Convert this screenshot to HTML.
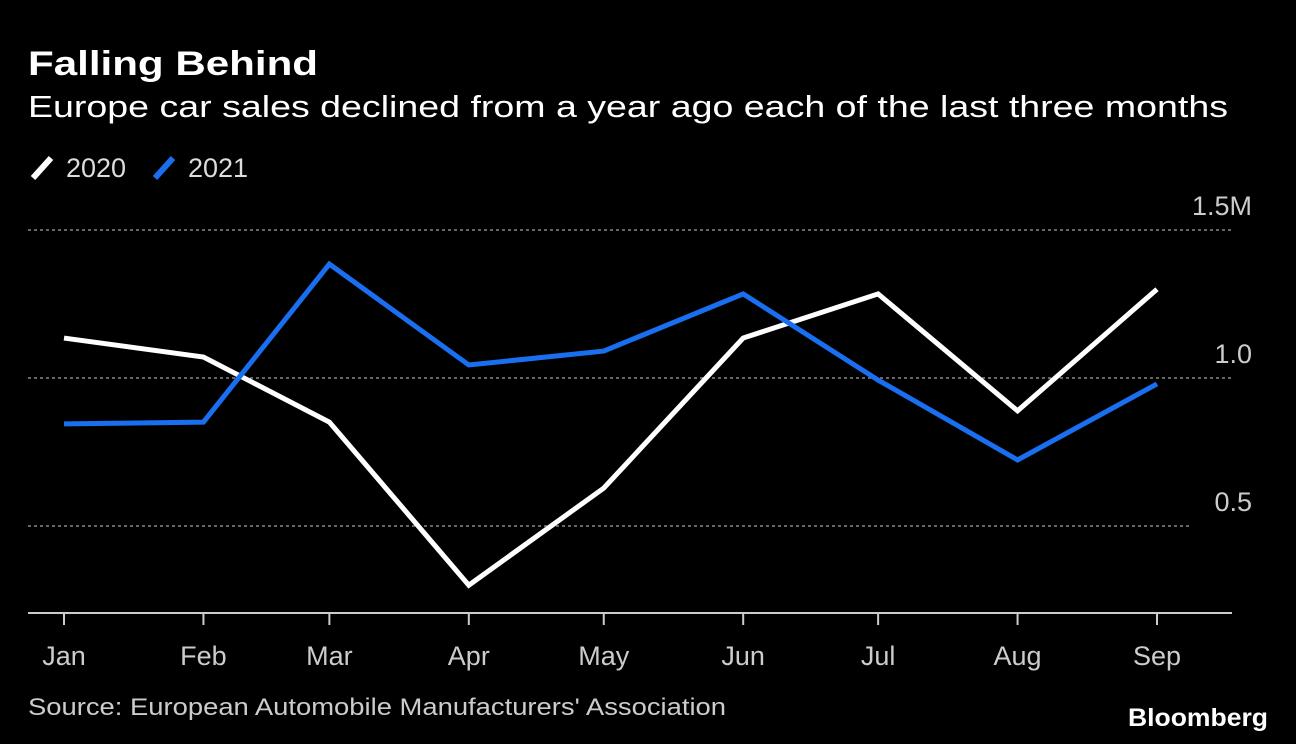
<!DOCTYPE html>
<html><head><meta charset="utf-8"><style>
html,body{margin:0;padding:0;background:#000;}
svg{display:block;font-family:"Liberation Sans",sans-serif;}
</style></head><body>
<svg id="chart" width="1296" height="744" viewBox="0 0 1296 744">
<rect width="1296" height="744" fill="#000"/>
<text x="28" y="75" fill="#fff" font-size="34" font-weight="bold" textLength="290" lengthAdjust="spacingAndGlyphs">Falling Behind</text>
<text x="28" y="117" fill="#fff" font-size="31" textLength="1200" lengthAdjust="spacingAndGlyphs">Europe car sales declined from a year ago each of the last three months</text>
<g>
<line x1="33" y1="178" x2="51" y2="158" stroke="#fff" stroke-width="6"/>
<text x="66" y="177" fill="#ddd" font-size="27">2020</text>
<line x1="155" y1="178" x2="173" y2="158" stroke="#1a6ff0" stroke-width="6"/>
<text x="188" y="177" fill="#ddd" font-size="27">2021</text>
</g>
<g id="grid"></g>
<g id="xaxis"></g>
<g id="lines"></g>
<text x="28" y="715" fill="#ccc" font-size="24" textLength="698" lengthAdjust="spacingAndGlyphs">Source: European Automobile Manufacturers' Association</text>
<text x="1268" y="726" text-anchor="end" fill="#fff" font-size="25" font-weight="bold" textLength="140" lengthAdjust="spacingAndGlyphs">Bloomberg</text>
</svg>
<script>
const months = ["Jan","Feb","Mar","Apr","May","Jun","Jul","Aug","Sep"];
const monthDay = [0,31,59,90,120,151,181,212,243];
const sales2020 = [1.135,1.071,0.851,0.30,0.628,1.135,1.284,0.889,1.30];
const sales2021 = [0.845,0.851,1.385,1.044,1.091,1.284,0.993,0.723,0.98];
const yTicks = [0.5,1.0,1.5];
const yTickLabels = ["0.5","1.0","1.5M"];

const NS="http://www.w3.org/2000/svg";
const xS = i => 64 + monthDay[i]*(1157-64)/243;
const yS = v => 674 - v*296;
function mk(tag, attrs, parent){const e=document.createElementNS(NS,tag);for(const k in attrs)e.setAttribute(k,attrs[k]);parent.appendChild(e);return e;}
const grid=document.getElementById('grid');
yTicks.forEach((t,i)=>{
  const l=mk('line',{x1:28,x2:(i===0?1192:1232),y1:yS(t),y2:yS(t),stroke:'#888','stroke-width':1.5,'stroke-dasharray':'3,3'},grid);
  
  
  const tx=mk('text',{x:1252,y:yS(t)-15,'text-anchor':'end',fill:'#ccc','font-size':27},grid);
  
  
  tx.textContent=yTickLabels[i];
});
const xa=document.getElementById('xaxis');
const ax=mk('line',{x1:28,x2:1232,y1:613,y2:613,stroke:'#ccc','stroke-width':2},xa);


months.forEach((m,i)=>{
  const tk=mk('line',{x1:xS(i),x2:xS(i),y1:613,y2:625,stroke:'#ccc','stroke-width':2},xa);
  
  
  const t=mk('text',{x:xS(i),y:665,'text-anchor':'middle',fill:'#ccc','font-size':27},xa);
  
  
  t.textContent=m;
});
const lg=document.getElementById('lines');
const p20=mk('polyline',{points:sales2020.map((v,i)=>xS(i)+','+yS(v)).join(' '),fill:'none',stroke:'#fff','stroke-width':5,'stroke-linejoin':'miter'},lg);


const p21=mk('polyline',{points:sales2021.map((v,i)=>xS(i)+','+yS(v)).join(' '),fill:'none',stroke:'#1a6ff0','stroke-width':5,'stroke-linejoin':'miter'},lg);


</script>
</body></html>
